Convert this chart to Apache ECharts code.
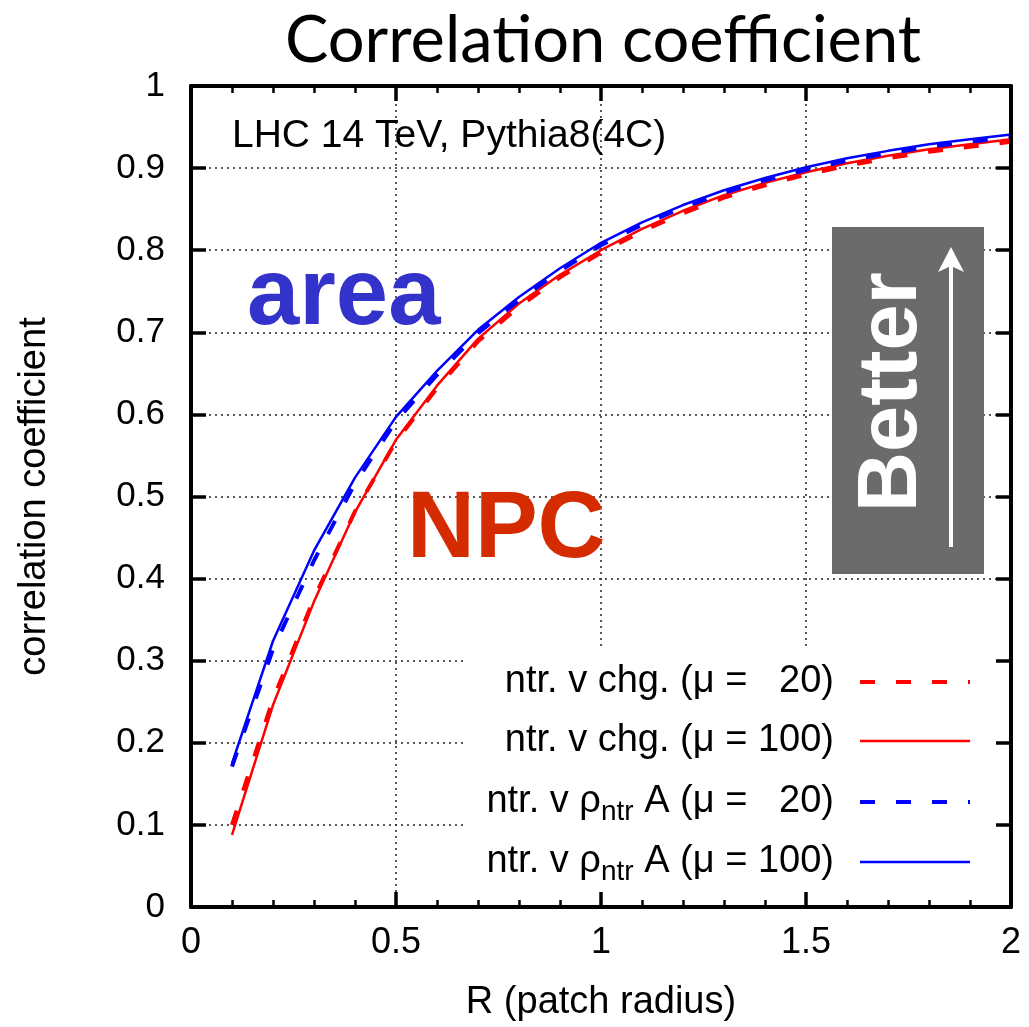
<!DOCTYPE html>
<html>
<head>
<meta charset="utf-8">
<script src="https://cdn.jsdelivr.net/npm/echarts@6/dist/echarts.min.js"></script>
<style>
html,body{margin:0;padding:0;background:#fff;}
#chart{width:1029px;height:1027px;}
</style>
</head>
<body>
<div id="chart"></div>
<script>
// ---- data ----
const radius = [0.1,0.2,0.3,0.4,0.5,0.6,0.7,0.8,0.9,1.0,1.1,1.2,1.3,1.4,1.5,1.6,1.7,1.8,1.9,2.0];
const chgMu20   = [0.100,0.253,0.376,0.482,0.567,0.632,0.689,0.731,0.767,0.797,0.823,0.845,0.864,0.879,0.892,0.903,0.912,0.920,0.926,0.932];
const chgMu100  = [0.088,0.246,0.372,0.481,0.569,0.635,0.692,0.735,0.770,0.800,0.826,0.848,0.867,0.882,0.895,0.906,0.915,0.923,0.929,0.935];
const areaMu20  = [0.171,0.314,0.422,0.516,0.592,0.648,0.699,0.739,0.775,0.806,0.831,0.852,0.870,0.885,0.898,0.909,0.918,0.926,0.932,0.938];
const areaMu100 = [0.175,0.324,0.434,0.523,0.597,0.653,0.703,0.743,0.778,0.809,0.834,0.855,0.873,0.888,0.901,0.912,0.921,0.929,0.935,0.941];
const xTicks = [0, 0.5, 1, 1.5, 2];
const yTicks = [0,0.1,0.2,0.3,0.4,0.5,0.6,0.7,0.8,0.9,1];
const legendLabels = [
  'ntr. v chg. (μ =   20)',
  'ntr. v chg. (μ = 100)',
  'ntr. v ρ{sub|ntr} A (μ =   20)',
  'ntr. v ρ{sub|ntr} A (μ = 100)'
];
const titleText = 'Correlation coefficient';
const xName = 'R (patch radius)';
const yName = 'correlation coefficient';
const noteText = 'LHC 14 TeV, Pythia8(4C)';

const pairs = (xs, ys) => xs.map((x, i) => [x, ys[i]]);
const FONT = 'Liberation Sans, Arial, Helvetica, sans-serif';
const RED = '#ff0000', BLUE = '#0000ff';
const DASH = [15, 21];

const chart = echarts.init(document.getElementById('chart'), null, {renderer: 'canvas'});

const tickCommon = {show: true, inside: true, length: 15, lineStyle: {color: '#000', width: 3.5}};
const minorCommon = {show: true, splitNumber: 5, length: 7, lineStyle: {color: '#000', width: 2.5}};
const lineCommon = {show: true, onZero: false, lineStyle: {color: '#000', width: 4}};
const gridDot = {show: true, lineStyle: {color: '#222', width: 1.5, type: [2, 4]}};

const legendRows = [
  {y: 682, color: RED, dash: DASH, w: 4},
  {y: 741, color: RED, dash: null, w: 2.5},
  {y: 802, color: BLUE, dash: DASH, w: 4},
  {y: 862, color: BLUE, dash: null, w: 2.5}
];
const legendGraphics = [];
legendRows.forEach((r, i) => {
  legendGraphics.push({
    type: 'text', z: 30, x: 834, y: r.y,
    style: {
      text: legendLabels[i], align: 'right', verticalAlign: 'middle',
      font: '38px ' + FONT, fill: '#000',
      rich: {sub: {fontSize: 28, fontFamily: FONT, padding: [20, 0, 0, 0]}}
    }
  });
  legendGraphics.push({
    type: 'line', z: 30,
    shape: {x1: 860, y1: r.y, x2: 970, y2: r.y},
    style: {stroke: r.color, lineWidth: r.w, lineDash: r.dash}
  });
});

const option = {
  backgroundColor: '#fff',
  animation: false,
  title: {
    text: titleText, left: 598, top: 4, textAlign: 'center',
    textStyle: {fontFamily: 'Lato', fontWeight: 'normal', fontSize: 65, color: '#000'}
  },
  grid: {left: 191, right: 18, top: 86, bottom: 118, containLabel: false},
  xAxis: [{
    type: 'value', position: 'bottom', min: 0, max: 2, interval: 0.5, z: 10,
    name: xName, nameLocation: 'middle', nameGap: 77,
    nameTextStyle: {fontFamily: FONT, fontSize: 38, color: '#000'},
    axisLine: lineCommon, axisTick: tickCommon, minorTick: minorCommon,
    splitLine: {show: false},
    axisLabel: {fontFamily: FONT, fontSize: 36, color: '#000', margin: 18,
      formatter: v => String(xTicks.find(t => Math.abs(t - v) < 1e-9) ?? v)}
  }, {
    type: 'value', position: 'top', min: 0, max: 2, interval: 0.5, z: 0,
    axisLine: lineCommon, axisTick: tickCommon, minorTick: minorCommon,
    splitLine: gridDot, axisLabel: {show: false}
  }],
  yAxis: [{
    type: 'value', position: 'left', min: 0, max: 1, interval: 0.1, z: 0,
    name: yName, nameLocation: 'middle', nameGap: 137, nameRotate: 90,
    nameTextStyle: {fontFamily: FONT, fontSize: 38, color: '#000'},
    axisLine: lineCommon, axisTick: tickCommon,
    splitLine: gridDot,
    axisLabel: {fontFamily: FONT, fontSize: 35, color: '#000', margin: 26,
      formatter: v => String(yTicks.find(t => Math.abs(t - v) < 1e-9) ?? v)}
  }, {
    type: 'value', position: 'right', min: 0, max: 1, interval: 0.1, z: 10,
    axisLine: lineCommon, axisTick: tickCommon,
    splitLine: {show: false}, axisLabel: {show: false}
  }],
  series: [
    {name: legendLabels[0], type: 'line', data: pairs(radius, chgMu20), showSymbol: false, symbol: 'none',
      lineStyle: {color: RED, width: 4, type: DASH}, z: 2},
    {name: legendLabels[1], type: 'line', data: pairs(radius, chgMu100), showSymbol: false, symbol: 'none',
      lineStyle: {color: RED, width: 2.5}, z: 3},
    {name: legendLabels[2], type: 'line', data: pairs(radius, areaMu20), showSymbol: false, symbol: 'none',
      lineStyle: {color: BLUE, width: 4, type: DASH}, z: 4},
    {name: legendLabels[3], type: 'line', data: pairs(radius, areaMu100), showSymbol: false, symbol: 'none',
      lineStyle: {color: BLUE, width: 2.5}, z: 5}
  ],
  graphic: [
    // legend background
    {type: 'rect', z: 5, shape: {x: 463, y: 647, width: 545, height: 260}, style: {fill: '#fff'}},
    // "Better" box
    {type: 'rect', z: 5, shape: {x: 832, y: 227, width: 152, height: 347}, style: {fill: '#6b6b6b'}},
    {type: 'text', z: 6, x: 893, y: 392, rotation: Math.PI / 2,
      style: {text: 'Better', align: 'center', verticalAlign: 'middle', font: 'bold 83px ' + FONT, fill: '#fff'}},
    {type: 'line', z: 6, shape: {x1: 951, y1: 547, x2: 951, y2: 262}, style: {stroke: '#fff', lineWidth: 4}},
    {type: 'polygon', z: 6, shape: {points: [[951, 247], [964, 272], [951, 266], [938, 272]]}, style: {fill: '#fff'}},
    // annotations
    {type: 'text', z: 6, x: 232, y: 136,
      style: {text: noteText, align: 'left', verticalAlign: 'middle', font: '39px ' + FONT, fill: '#000'}},
    {type: 'text', z: 6, x: 247, y: 298,
      style: {text: 'area', align: 'left', verticalAlign: 'middle', font: 'bold 94px ' + FONT, fill: '#3333cc'}},
    {type: 'text', z: 6, x: 407, y: 531,
      style: {text: 'NPC', align: 'left', verticalAlign: 'middle', font: 'bold 94px ' + FONT, fill: '#d52b00'}},
    ...legendGraphics
  ]
};
chart.setOption(option);
</script>
</body>
</html>
